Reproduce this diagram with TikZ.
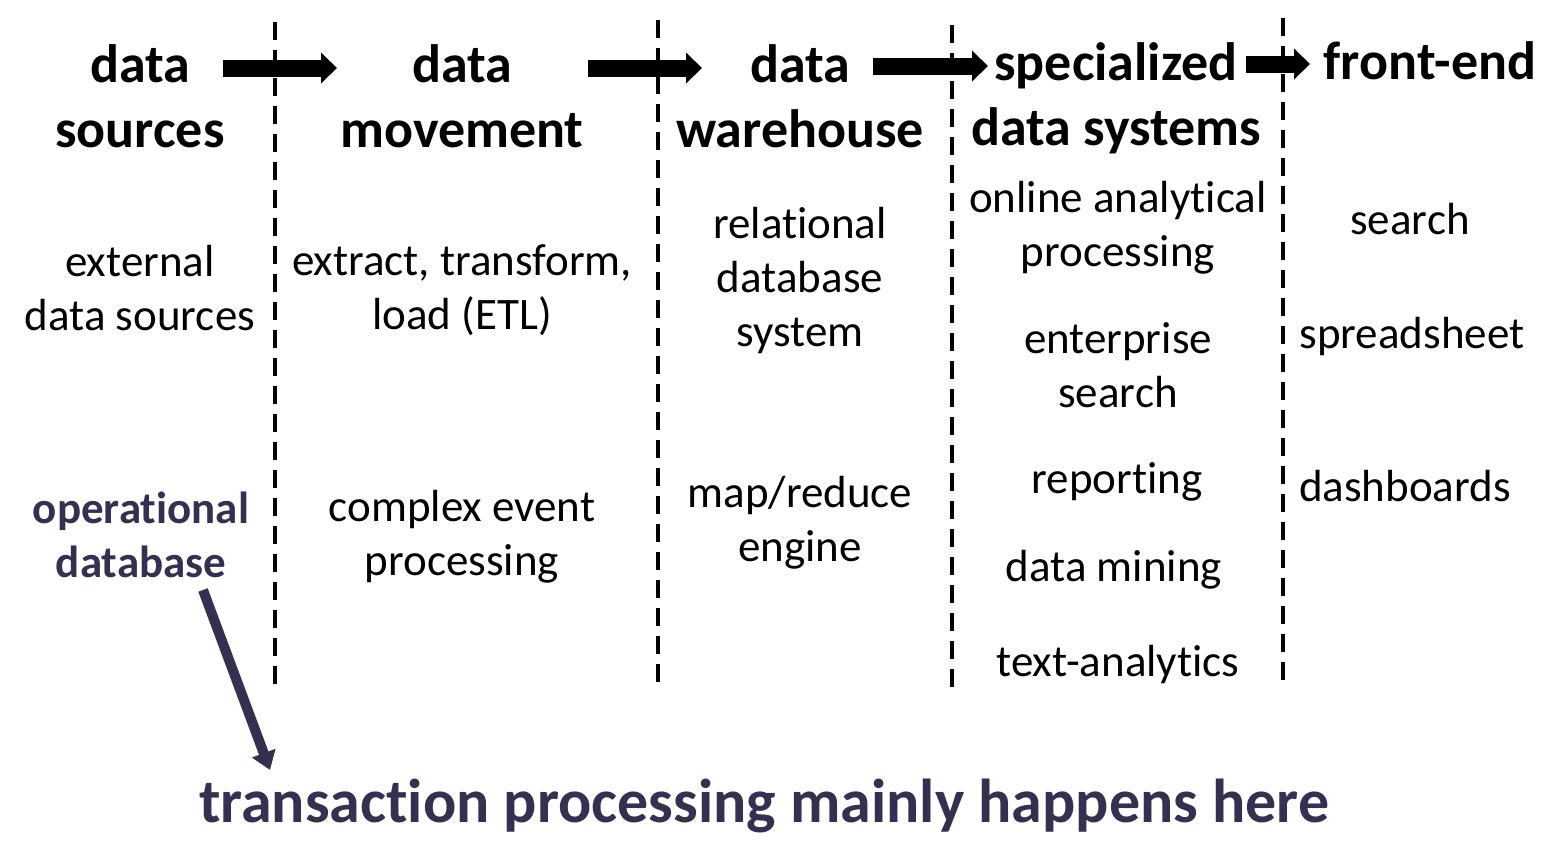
\documentclass[tikz,border=0pt]{standalone}
\usepackage{fontspec}
\setmainfont{Carlito}[Ligatures=NoCommon]
\usetikzlibrary{arrows.meta,positioning}
\definecolor{navy}{RGB}{52,48,80}

\begin{document}
\begin{tikzpicture}[
                x=0.5pt, y=-0.5pt,
                every node/.append style={align=center, inner sep=0pt},
                head/.style={font=\fontsize{27}{32.5}\selectfont\bfseries},
                item/.style={font=\fontsize{22.5}{27}\selectfont},
                opitem/.style={font=\fontsize{22.5}{27}\selectfont\bfseries, text=navy},
                note/.style={font=\fontsize{31}{37}\selectfont\bfseries, text=navy},
                colsep/.style={line width=2.4pt, dash pattern=on 9pt off 5pt},
                flow/.style={line width=8.5pt, -{Triangle[width=15pt,length=8pt]}},
                pointer/.style={navy, line width=5pt, -{Triangle[width=12pt,length=9pt]}}
            ]
                \useasboundingbox (0,0) rectangle (1552,848);
                % column separators
                \foreach \x/\t/\b in {275/22/685, 658/20/685, 952/25/688, 1283/18/682} {
                    \coordinate (sep\x top) at (\x,\t);
                    \coordinate (sep\x bot) at (\x,\b);
                    \draw[colsep] (sep\x top) -- (sep\x bot);
                }
                % headings
                \node (hsrc)  [head] at (140,96)  {data\\sources};
                \node (hmov)  [head] at (462,96)  {data\\movement};
                \node (hwh)   [head] at (800,96)  {data\\warehouse};
                \node (hspec) [head] at (1116,98) {specialized\\data systems};
                \node (hfe)   [head] at (1430,61) {front-end};
                % flow arrows
                \foreach \a/\b/\y [count=\i] in {223/337/68, 588/702/68, 873/988/66, 1246/1310/64} {
                    \coordinate (f\i s) at (\a,\y);
                    \coordinate (f\i e) at (\b,\y);
                    \draw[flow] (f\i s) -- (f\i e);
                }
                % data sources
                \node (ext) [item]   at (140,288) {external\\data sources};
                \node (op)  [opitem] at (141,535) {operational\\database};
                % data movement
                \node (etl) [item] at (462,290) {extract, transform,\\load (ETL)};
                \node (cep) [item] at (462,537) {complex event\\processing};
                % data warehouse
                \node (rdb) [item] at (800,280) {relational\\database\\system};
                \node (mr)  [item] at (800,523) {map/reduce\\engine};
                % specialized data systems
                \node (olap)   [item] at (1118,228) {online analytical\\processing};
                \node (esrch)  [item] at (1118,365) {enterprise\\search};
                \node (rep)    [item] at (1117,482) {reporting};
                \node (mining) [item] at (1114,570) {data mining};
                \node (text)   [item] at (1118,664) {text-analytics};
                % front-end
                \node (srch)  [item] at (1410,219) {search};
                \node (sheet) [item] at (1412,336) {spreadsheet};
                \node (dash)  [item] at (1405,486) {dashboards};
                % transaction processing
                \node (tp) [note] at (764,806) {transaction processing mainly happens here};
                \coordinate (tpout) at (203,590);
                \coordinate (tpin) at (270,770);
                \draw[pointer] (tpout) -- (tpin);
            \end{tikzpicture}
\end{document}
